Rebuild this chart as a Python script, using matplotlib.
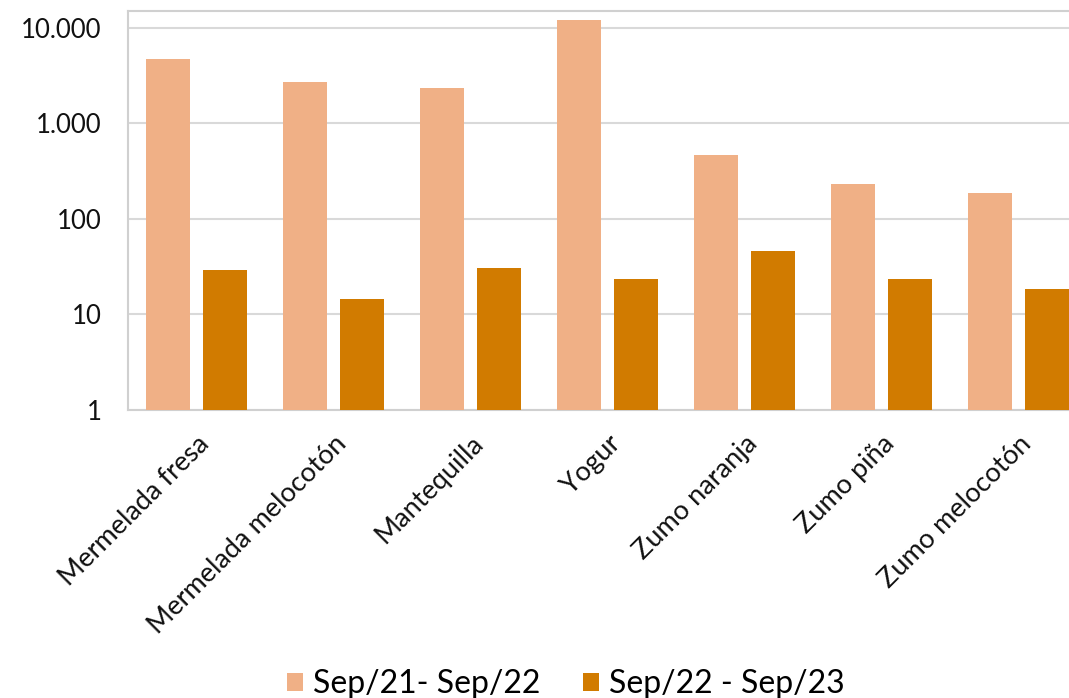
import matplotlib.pyplot as plt
import numpy as np
from matplotlib.ticker import FixedLocator, FuncFormatter

plt.rcParams["font.family"] = ["Lato", "DejaVu Sans"]

categories = ["Mermelada fresa", "Mermelada melocotón", "Mantequilla", "Yogur",
              "Zumo naranja", "Zumo piña", "Zumo melocotón"]
sep21_sep22 = [4700, 2700, 2350, 12000, 465, 232, 186]
sep22_sep23 = [29, 14.5, 31, 23.5, 46, 23.5, 18.5]
series_labels = ["Sep/21- Sep/22", "Sep/22 - Sep/23"]
y_ticks = [1, 10, 100, 1000, 10000]

LIGHT = "#F0B086"
DARK = "#D17B00"

fig = plt.figure(figsize=(10.69, 6.98), dpi=100)
ax = fig.add_axes([128 / 1069, 1 - 410 / 698, 959 / 1069, 399 / 698])

x = np.arange(len(categories))
width = 0.328
offset = 0.208
ax.bar(x - offset, sep21_sep22, width, color=LIGHT, label=series_labels[0], zorder=3)
ax.bar(x + offset, sep22_sep23, width, color=DARK, label=series_labels[1], zorder=3)

ax.set_yscale("log")
ax.set_ylim(1, 15000)
ax.set_xlim(-0.5, len(categories) - 0.5)
ax.yaxis.set_major_locator(FixedLocator(y_ticks))
ax.yaxis.set_minor_locator(FixedLocator([]))
ax.yaxis.set_major_formatter(FuncFormatter(lambda v, _: f"{int(v):,}".replace(",", ".")))
ax.grid(axis="y", color="#D9D9D9", linewidth=1.5, zorder=0)

for side in ["left", "top", "bottom", "right"]:
    ax.spines[side].set_color("#D0D0D0")
    ax.spines[side].set_linewidth(1.5)

ax.tick_params(axis="y", length=0, pad=19, labelsize=18.5, labelcolor="#111111")
ax.tick_params(axis="x", length=0, pad=15)
ax.set_xticks(x)
ax.set_xticklabels(categories, rotation=45, ha="right", rotation_mode="anchor",
                   fontsize=19.5, color="#111111")

fig.legend(loc="center", bbox_to_anchor=(566 / 1069, 1 - 684 / 698), ncol=2,
           frameon=False, fontsize=23, handlelength=0.5, handleheight=0.5,
           handletextpad=0.3, columnspacing=1.35)

fig.savefig("out.png", dpi=100)
